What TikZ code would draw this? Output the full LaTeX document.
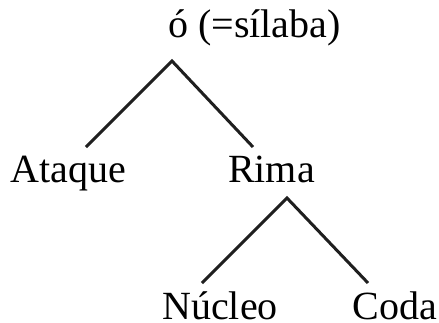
\documentclass[tikz,border=0pt]{standalone}
\usepackage{fontspec}
\setmainfont{Liberation Serif}
\begin{document}
\begin{tikzpicture}[x=1pt,y=-1pt,
  lab/.style={inner sep=0pt,anchor=base,font=\fontsize{40}{48}\selectfont},
  branch/.style={line width=3pt,color=black!88,line cap=butt}]
\useasboundingbox (0,0) rectangle (439,322);
\node[lab] (sil) at (254.5,37) {ó (=sílaba)};
\node[lab] (ataque) at (68.5,182) {Ataque};
\node[lab] (rima) at (271.5,182) {Rima};
\node[lab] (nucleo) at (220,319.5) {Núcleo};
\node[lab] (coda) at (395,319.5) {Coda};
\coordinate (a1) at (172,61);
\coordinate (l1) at (86,147);
\coordinate (r1) at (253,147);
\coordinate (a2) at (287,198);
\coordinate (l2) at (202,283);
\coordinate (r2) at (368,283);
\draw[branch] (l1) -- (a1) -- (r1);
\draw[branch] (l2) -- (a2) -- (r2);
\end{tikzpicture}
\end{document}
